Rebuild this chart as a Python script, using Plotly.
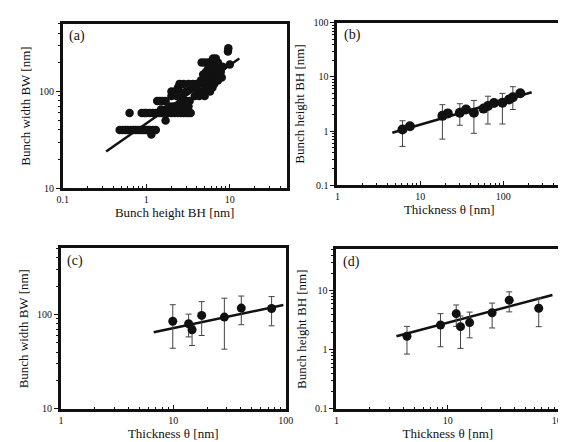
import plotly.graph_objects as go

# ---------------- Panel (a): BW vs BH scatter ----------------
a_bh = [0.48, 0.52, 0.56, 0.60, 0.65, 0.70, 0.75, 0.80, 0.85, 0.90, 0.95, 1.00, 1.05, 1.10, 1.20, 1.30,
        1.15, 0.63,
        0.88, 0.95, 1.00, 1.10, 1.20, 1.30, 1.40, 1.50, 1.60, 1.80, 2.00, 2.20, 2.40, 2.60, 2.80, 3.00, 3.20, 3.40,
        1.70, 1.50, 1.70,
        1.90, 2.10, 2.30, 2.50, 2.80, 3.20,
        1.35, 1.45, 1.55, 1.70, 2.60, 3.00, 3.30,
        2.00, 2.30, 2.60, 3.80, 4.30, 5.00,
        2.00, 2.20, 2.50, 3.00, 4.20, 4.60, 5.20, 5.80,
        2.40, 3.50, 4.00, 5.50, 6.20,
        2.50, 2.80, 3.20, 3.60, 4.00, 4.80, 5.50, 6.00, 6.50,
        4.50, 5.00, 5.80, 6.50, 7.20,
        5.00, 5.50, 6.00, 7.00, 7.50, 8.00,
        4.80, 5.50, 6.20, 6.80, 7.50,
        5.20, 5.80, 6.50, 7.80,
        5.50, 6.20, 7.00,
        6.00, 7.00, 8.20,
        10.0,
        4.60, 5.00, 5.50, 6.20, 6.80, 7.20,
        6.30, 6.80,
        9.50, 9.60]
a_bw = [40, 40, 40, 40, 40, 40, 40, 40, 40, 40, 40, 40, 40, 40, 40, 40,
        36, 60,
        60, 60, 60, 60, 60, 60, 60, 60, 60, 60, 60, 60, 60, 60, 60, 60, 60, 60,
        50, 65, 65,
        70, 70, 70, 70, 70, 70,
        80, 80, 80, 80, 80, 80, 80,
        90, 90, 90, 90, 90, 90,
        100, 100, 100, 100, 100, 100, 100, 100,
        110, 110, 110, 110, 110,
        120, 120, 120, 120, 120, 120, 120, 120, 120,
        130, 130, 130, 130, 130,
        140, 140, 140, 140, 140, 140,
        150, 150, 150, 150, 150,
        160, 160, 160, 160,
        170, 170, 170,
        180, 180, 180,
        190,
        200, 200, 200, 200, 200, 200,
        220, 220,
        260, 280]
a_fit_x = [0.33, 13.0]
a_fit_y = [24, 220]

# ---------------- Panel (b): BH vs thickness ----------------
b_th = [6.1, 7.5, 18.5, 21.5, 30, 35.7, 44.4, 58, 65.5, 77.6, 98, 118, 131, 161]
b_bh = [1.07, 1.23, 1.91, 2.12, 2.18, 2.5, 2.18, 2.6, 2.91, 3.3, 3.34, 3.84, 4.22, 5.0]
b_hi = [1.55, None, 3.07, None, 3.2, None, 3.68, None, 4.4, None, 4.97, None, 6.6, None]
b_lo = [0.52, None, 0.71, None, 1.28, None, 0.91, None, 1.35, None, 1.35, None, 2.5, None]
b_fit_x = [4.6, 221]
b_fit_y = [0.93, 5.2]

# ---------------- Panel (c): BW vs thickness ----------------
c_th = [9.9, 13.7, 14.7, 17.9, 28.5, 40.3, 75]
c_bw = [85, 80, 69, 98, 94, 117, 116]
c_hi = [127, 101, 76, 137, 149, 157, 155]
c_lo = [44, 58, 47, 60, 43, 78, 76]
c_fit_x = [6.7, 95.5]
c_fit_y = [65, 126]

# ---------------- Panel (d): BH vs thickness ----------------
d_th = [4.3, 8.6, 11.9, 13.0, 15.7, 25, 35.6, 65.5]
d_bh = [1.7, 2.64, 4.1, 2.47, 2.9, 4.25, 6.95, 5.07]
d_hi = [2.5, 4.1, 5.75, 3.75, 4.36, 6.2, 9.6, 7.5]
d_lo = [0.85, 1.13, 2.5, 1.06, 1.6, 2.35, 4.4, 2.47]
d_fit_x = [3.46, 87]
d_fit_y = [1.7, 8.5]

FONT = "Liberation Serif, Times New Roman, serif"
BLACK = "#111111"


def errs(vals, hi, lo):
    plus, minus = [], []
    for v, h, l in zip(vals, hi, lo):
        plus.append(None if h is None else h - v)
        minus.append(None if l is None else v - l)
    return plus, minus


fig = go.Figure()

# panel a
fig.add_trace(go.Scatter(x=a_bh, y=a_bw, mode="markers", xaxis="x", yaxis="y",
                         marker=dict(size=8.5, color=BLACK), showlegend=False))
fig.add_trace(go.Scatter(x=a_fit_x, y=a_fit_y, mode="lines", xaxis="x", yaxis="y",
                         line=dict(color=BLACK, width=2.5), showlegend=False))

# panel b
bp, bm = errs(b_bh, b_hi, b_lo)
fig.add_trace(go.Scatter(x=b_fit_x, y=b_fit_y, mode="lines", xaxis="x2", yaxis="y2",
                         line=dict(color=BLACK, width=2.5), showlegend=False))
fig.add_trace(go.Scatter(x=b_th, y=b_bh, mode="markers", xaxis="x2", yaxis="y2",
                         marker=dict(size=10, color=BLACK),
                         error_y=dict(type="data", symmetric=False, array=bp, arrayminus=bm,
                                      color="#444444", thickness=1, width=3),
                         showlegend=False))

# panel c
cp, cm = errs(c_bw, c_hi, c_lo)
fig.add_trace(go.Scatter(x=c_fit_x, y=c_fit_y, mode="lines", xaxis="x3", yaxis="y3",
                         line=dict(color=BLACK, width=2.5), showlegend=False))
fig.add_trace(go.Scatter(x=c_th, y=c_bw, mode="markers", xaxis="x3", yaxis="y3",
                         marker=dict(size=9, color=BLACK),
                         error_y=dict(type="data", symmetric=False, array=cp, arrayminus=cm,
                                      color="#444444", thickness=1, width=3),
                         showlegend=False))

# panel d
dp, dm = errs(d_bh, d_hi, d_lo)
fig.add_trace(go.Scatter(x=d_fit_x, y=d_fit_y, mode="lines", xaxis="x4", yaxis="y4",
                         line=dict(color=BLACK, width=2.5), showlegend=False))
fig.add_trace(go.Scatter(x=d_th, y=d_bh, mode="markers", xaxis="x4", yaxis="y4",
                         marker=dict(size=9, color=BLACK),
                         error_y=dict(type="data", symmetric=False, array=dp, arrayminus=dm,
                                      color="#444444", thickness=1, width=3),
                         showlegend=False))


def xax(domain, rng, vals, title, anchor):
    return dict(type="log", domain=domain, range=rng, anchor=anchor,
                tickvals=vals, ticktext=[("%g" % v) for v in vals],
                ticks="inside", ticklen=4, tickwidth=1, tickcolor=BLACK,
                minor=dict(ticks="inside", ticklen=2, dtick="D1", tickcolor=BLACK, showgrid=False),
                showline=True, linewidth=2.8, linecolor=BLACK, mirror=True,
                showgrid=False, zeroline=False,
                tickfont=dict(family=FONT, size=10, color=BLACK),
                title=dict(text=title, font=dict(family=FONT, size=13, color=BLACK), standoff=4))


def yax(domain, rng, vals, title, anchor):
    return dict(type="log", domain=domain, range=rng, anchor=anchor,
                tickvals=vals, ticktext=[("%g" % v) for v in vals],
                ticks="outside", ticklen=4, tickwidth=1, tickcolor=BLACK,
                minor=dict(ticks="outside", ticklen=2, dtick="D1", tickcolor=BLACK, showgrid=False),
                showline=True, linewidth=2.8, linecolor=BLACK, mirror=True,
                showgrid=False, zeroline=False,
                tickfont=dict(family=FONT, size=10, color=BLACK),
                title=dict(text=title, font=dict(family=FONT, size=13, color=BLACK), standoff=6))


fig.update_layout(
    width=566, height=442,
    margin=dict(l=0, r=0, t=0, b=0),
    paper_bgcolor="white", plot_bgcolor="white",
    font=dict(family=FONT, color=BLACK),
    xaxis=xax([0.0883, 0.4929], [-1, 1.68], [0.1, 1, 10], "Bunch height BH [nm]", "y"),
    yaxis=yax([0.595, 0.977], [1, 2.7], [10, 100], "Bunch width BW [nm]", "x"),
    xaxis2=xax([0.5848, 0.9894], [0, 2.7], [1, 10, 100], "Thickness θ [nm]", "y2"),
    yaxis2=yax([0.6018, 0.9796], [-1, 2], [0.1, 1, 10, 100], "Bunch height BH [nm]", "x2"),
    xaxis3=xax([0.0848, 0.4912], [0, 2], [1, 10, 100], "Thickness θ [nm]", "y3"),
    yaxis3=yax([0.0814, 0.4548], [1, 2.7], [10, 100], "Bunch width BW [nm]", "x3"),
    xaxis4=xax([0.583, 0.9859], [0, 2], [1, 10, 100], "Thickness θ [nm]", "y4"),
    yaxis4=yax([0.0814, 0.4525], [-1, 1.7], [0.1, 1, 10], "Bunch height BH [nm]", "x4"),
)

for lab, xr, yr in [("(a)", "x", "y"), ("(b)", "x2", "y2"), ("(c)", "x3", "y3"), ("(d)", "x4", "y4")]:
    fig.add_annotation(text=lab, xref=xr + " domain", yref=yr + " domain", x=0.02, y=0.985,
                       xanchor="left", yanchor="top", showarrow=False,
                       font=dict(family=FONT, size=14, color=BLACK))

fig.write_html("out.html")
